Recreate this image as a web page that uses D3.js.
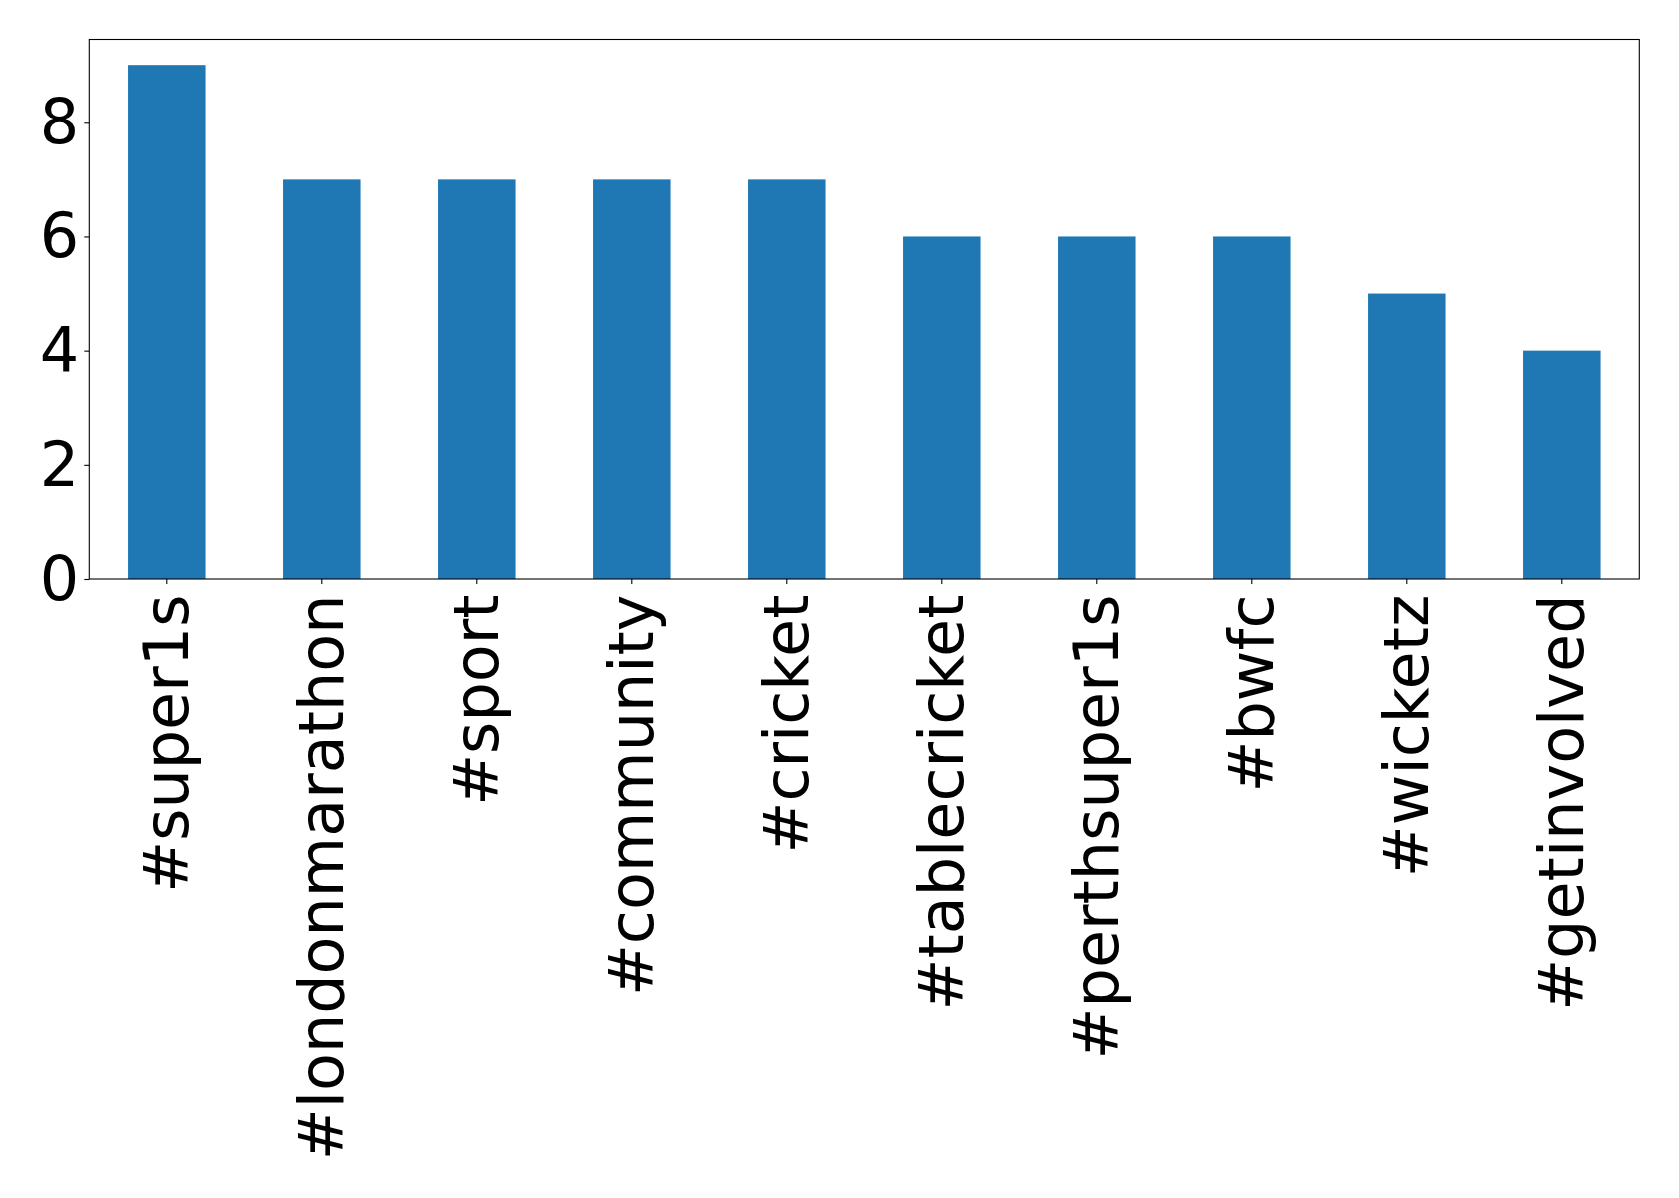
<!DOCTYPE html>
<html>
<head>
<meta charset="utf-8">
<script src="https://cdn.jsdelivr.net/npm/d3@7"></script>
<style>
  html, body { margin: 0; padding: 0; background: #fff; }
  svg { display: block; }
  text { font-family: "DejaVu Sans", sans-serif; fill: #000; }
</style>
</head>
<body>
<svg id="chart" width="1679" height="1198"></svg>
<script>
const categories = ["#super1s", "#londonmarathon", "#sport", "#community", "#cricket",
                    "#tablecricket", "#perthsuper1s", "#bwfc", "#wicketz", "#getinvolved"];
const values = [9, 7, 7, 7, 7, 6, 6, 6, 5, 4];
const yTicks = [0, 2, 4, 6, 8];

const plotLeft = 89.3, plotRight = 1639.3, plotTop = 39.5, plotBottom = 579;
const fontSize = 62;

const svg = d3.select("#chart");

const x = d3.scaleBand().domain(categories).range([plotLeft, plotRight]).paddingInner(0.5).paddingOuter(0.25);
const y = d3.scaleLinear().domain([0, 9.45]).range([plotBottom, plotTop]);

// bars
svg.append("g").selectAll("rect").data(values).join("rect")
  .attr("x", (d, i) => x(categories[i]))
  .attr("y", d => y(d))
  .attr("width", x.bandwidth())
  .attr("height", d => y(0) - y(d))
  .attr("fill", "#1f77b4");

// frame
svg.append("rect")
  .attr("x", plotLeft).attr("y", plotTop)
  .attr("width", plotRight - plotLeft).attr("height", plotBottom - plotTop)
  .attr("fill", "none").attr("stroke", "#000").attr("stroke-width", 1.1);

// y axis
const yAxis = d3.axisLeft(y).tickValues(yTicks).tickSize(5).tickPadding(5);
const gy = svg.append("g").attr("transform", `translate(${plotLeft},0)`).call(yAxis);
gy.select(".domain").remove();
gy.selectAll(".tick line").attr("stroke", "#000").attr("stroke-width", 1.1);
gy.selectAll(".tick text")
  .style("font-family", "'DejaVu Sans', sans-serif")
  .style("font-size", fontSize + "px")
  .attr("fill", "#000")
  .attr("dy", "0.33em");

// x axis
const xAxis = d3.axisBottom(x).tickSize(5).tickPadding(0);
const gx = svg.append("g").attr("transform", `translate(0,${plotBottom})`).call(xAxis);
gx.select(".domain").remove();
gx.selectAll(".tick line").attr("stroke", "#000").attr("stroke-width", 1.1);
gx.selectAll(".tick text")
  .style("font-family", "'DejaVu Sans', sans-serif")
  .style("font-size", fontSize + "px")
  .attr("fill", "#000")
  .attr("text-anchor", "end")
  .attr("x", 0)
  .attr("y", 0)
  .attr("dy", null)
  .attr("transform", `translate(20.7,15.5) rotate(-90)`);
</script>
</body>
</html>
